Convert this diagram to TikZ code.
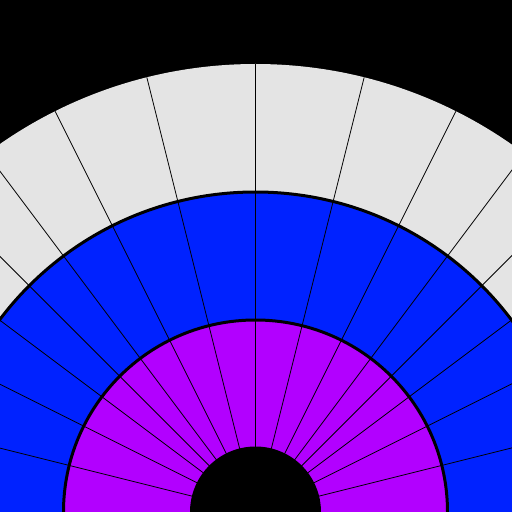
\documentclass[tikz,border=0pt]{standalone}
\definecolor{ringgray}{HTML}{E4E4E4}
\definecolor{ringblue}{HTML}{0022FF}
\definecolor{ringpurple}{HTML}{B200FF}
\begin{document}
\begin{tikzpicture}[x=1pt,y=1pt,
  spoke/.style={black,line width=0.8pt},
  rim/.style={black,line width=3pt}]
\useasboundingbox (0,0) rectangle (512,512);
\clip (0,0) rectangle (512,512);
\fill[black] (0,0) rectangle (512,512);
\coordinate (O) at (255.5,0);
\fill[ringgray] (O) circle[radius=448];
\fill[ringblue] (O) circle[radius=320];
\fill[ringpurple] (O) circle[radius=192];
\foreach \a in {0,14.036,26.565,36.870,45,53.130,63.435,75.964,90,104.036,116.565,126.870,135,143.130,153.435,165.964,180}
  \draw[spoke,shift={(O)}] (\a:65) -- (\a:448);
\fill[black] (O) circle[radius=65.5];
\draw[rim] (O) circle[radius=192];
\draw[rim] (O) circle[radius=320];
\end{tikzpicture}
\end{document}
